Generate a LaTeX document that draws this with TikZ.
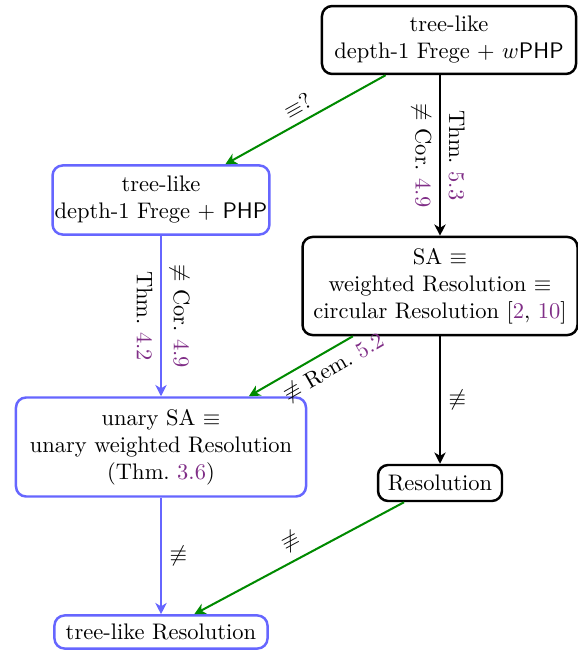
\documentclass[tikz,border=0pt]{standalone}
\usepackage{amsmath,amssymb}
\usetikzlibrary{arrows.meta}
\definecolor{linkpurple}{rgb}{0.5,0.18,0.53}
\definecolor{myblue}{HTML}{6666FF}
\definecolor{mygreen}{HTML}{008A00}
\newcommand{\lnk}[1]{\textcolor{linkpurple}{#1}}
\newcommand{\neqv}{\mathrel{\not\equiv}}
\begin{document}
\begin{tikzpicture}[x=0.4444pt,y=-0.4444pt,
  box/.style={draw, rounded corners=4.5pt, line width=1.1pt, align=center, inner sep=0pt},
  bbox/.style={box, draw=black},
  ubox/.style={box, draw=myblue},
  conn/.style={line width=0.9pt, -{Stealth[length=5pt,width=5pt,inset=1.5pt]}},
  gconn/.style={conn, draw=mygreen},
  uconn/.style={conn, draw=myblue},
  kconn/.style={conn, draw=black}]
\useasboundingbox (0,0) rectangle (578,651);
\node[bbox, minimum width=112.9pt, minimum height=30.2pt] (A) at (449,40)
  {tree-like\\depth-1 Frege + $w$\textsf{PHP}};
\node[ubox, minimum width=96.4pt, minimum height=30.7pt] (B) at (161,200)
  {tree-like\\depth-1 Frege + \textsf{PHP}};
\node[bbox, minimum width=122.2pt, minimum height=43.6pt] (C) at (440,286)
  {SA $\equiv$\\weighted Resolution $\equiv$\\circular Resolution [\lnk{2}, \lnk{10}]};
\node[ubox, minimum width=128.9pt, minimum height=44pt] (D) at (161,447)
  {unary SA $\equiv$\\unary weighted Resolution\\(Thm.~\lnk{3.6})};
\node[bbox, minimum width=55.1pt, minimum height=16pt] (E) at (440,483)
  {Resolution};
\node[ubox, minimum width=94.7pt, minimum height=14.7pt] (F) at (161,632)
  {tree-like Resolution};

\draw[kconn] (C.north |- A.south) -- (C.north)
  node[midway, rotate=-90, anchor=south] {Thm.~\lnk{5.3}}
  node[midway, rotate=-90, anchor=north] {$\neqv$ Cor.~\lnk{4.9}};
\draw[gconn] (A) -- (B)
  node[midway, sloped, above] {$\equiv$?};
\draw[uconn] (B) -- (D)
  node[midway, rotate=-90, anchor=north] {Thm.~\lnk{4.2}}
  node[midway, rotate=-90, anchor=south] {$\neqv$ Cor.~\lnk{4.9}};
\draw[gconn] (C) -- (D)
  node[pos=0.27, sloped, below] {$\neqv$ Rem.~\lnk{5.2}};
\draw[kconn] (C) -- (E)
  node[midway, right] {$\neqv$};
\draw[uconn] (D) -- (F)
  node[midway, right] {$\neqv$};
\draw[gconn] (E) -- (F)
  node[midway, sloped, above] {$\neqv$};
\end{tikzpicture}
\end{document}
